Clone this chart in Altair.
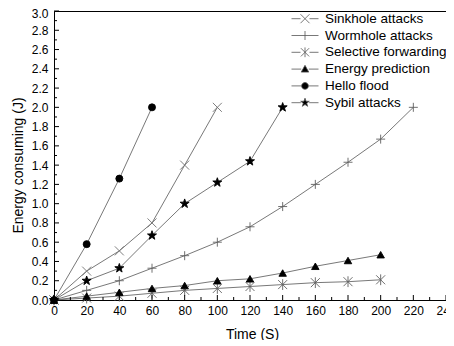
import math
import altair as alt
import pandas as pd

# ---------------- data ----------------
series_names = ["Sinkhole attacks", "Wormhole attacks", "Selective forwarding",
                "Energy prediction", "Hello flood", "Sybil attacks"]

sinkhole_t = [0, 20, 40, 60, 80, 100]
sinkhole_e = [0, 0.30, 0.51, 0.80, 1.40, 2.00]

wormhole_t = [0, 20, 40, 60, 80, 100, 120, 140, 160, 180, 200, 220]
wormhole_e = [0, 0.10, 0.20, 0.33, 0.46, 0.60, 0.76, 0.97, 1.20, 1.43, 1.67, 2.00]

selective_t = [0, 20, 40, 60, 80, 100, 120, 140, 160, 180, 200]
selective_e = [0, 0.02, 0.04, 0.07, 0.10, 0.12, 0.14, 0.16, 0.18, 0.19, 0.21]

prediction_t = [0, 20, 40, 60, 80, 100, 120, 140, 160, 180, 200]
prediction_e = [0, 0.04, 0.08, 0.12, 0.15, 0.20, 0.22, 0.28, 0.35, 0.41, 0.47]

hello_t = [0, 20, 40, 60]
hello_e = [0, 0.58, 1.26, 2.00]

sybil_t = [0, 20, 40, 60, 80, 100, 120, 140]
sybil_e = [0, 0.20, 0.33, 0.67, 1.00, 1.22, 1.44, 2.00]

x_major = [0, 20, 40, 60, 80, 100, 120, 140, 160, 180, 200, 220, 240]
x_minor = [10, 30, 50, 70, 90, 110, 130, 150, 170, 190, 210, 230]
y_major = [0.0, 0.2, 0.4, 0.6, 0.8, 1.0, 1.2, 1.4, 1.6, 1.8, 2.0, 2.2, 2.4, 2.6, 2.8, 3.0]
y_minor = [0.1, 0.3, 0.5, 0.7, 0.9, 1.1, 1.3, 1.5, 1.7, 1.9, 2.1, 2.3, 2.5, 2.7, 2.9]

all_t = [sinkhole_t, wormhole_t, selective_t, prediction_t, hello_t, sybil_t]
all_e = [sinkhole_e, wormhole_e, selective_e, prediction_e, hello_e, sybil_e]

rows = []
for name, ts, es in zip(series_names, all_t, all_e):
    for t, e in zip(ts, es):
        rows.append({"series": name, "time": t, "energy": e})
df = pd.DataFrame(rows)

# ---------------- marker shapes ----------------
def star_path(r_out, r_in):
    pts = []
    for k in range(10):
        ang = math.radians(-90 + 36 * k)
        r = r_out if k % 2 == 0 else r_in
        pts.append((r * math.cos(ang), r * math.sin(ang)))
    return "M" + "L".join(f"{x:.3f},{y:.3f}" for x, y in pts) + "Z"

def circle_path(r):
    pts = []
    for k in range(20):
        ang = 2 * math.pi * k / 20
        pts.append((r * math.cos(ang), r * math.sin(ang)))
    return "M" + "L".join(f"{x:.3f},{y:.3f}" for x, y in pts) + "Z"

X_PATH = "M-1,-1L1,1M-1,1L1,-1"
PLUS_PATH = "M-1,0L1,0M0,-1L0,1"
AST_PATH = "M-1,-1L1,1M-1,1L1,-1M0,-1.2L0,1.2"
STAR_PATH = star_path(1, 0.4)

marker_paths = [X_PATH, PLUS_PATH, AST_PATH, "triangle-up", "circle", STAR_PATH]
marker_fill = ["transparent", "transparent", "transparent", "black", "black", "black"]
marker_stroke = ["#707070", "#606060", "#606060", "black", "black", "black"]
marker_size = [81, 81, 81, 56, 49, 90]

seg = "M-1.8,0L-0.6,0M0.6,0L1.8,0"
legend_paths = [
    seg + "M-0.6,-0.6L0.6,0.6M-0.6,0.6L0.6,-0.6",
    "M-1.8,0L1.8,0M0,-0.6L0,0.6",
    seg + "M-0.55,-0.55L0.55,0.55M-0.55,0.55L0.55,-0.55M0,-0.65L0,0.65",
    "M-1.8,0L-0.5,0M0.5,0L1.8,0M0,-0.5L0.5,0.4L-0.5,0.4Z",
    "M-1.8,0L-0.45,0M0.45,0L1.8,0" + circle_path(0.45),
    "M-1.8,0L-0.55,0M0.55,0L1.8,0" + star_path(0.6, 0.24),
]
legend_fill = ["transparent", "transparent", "transparent", "black", "black", "black"]
legend_stroke = ["#555555"] * 6

# ---------------- chart ----------------
W, H = 392, 289
FONT = "Liberation Sans"
xs = alt.Scale(domain=[0, 240], nice=False, zero=False)
ys = alt.Scale(domain=[0, 3], nice=False, zero=False)

x_axis = alt.Axis(values=x_major, format="d", ticks=False, grid=False,
                  domainColor="black", domainWidth=1,
                  labelFont=FONT, labelFontSize=12, labelColor="black",
                  labelPadding=5, labelFlush=False, labelOverlap=False,
                  titleFont=FONT, titleFontSize=14, titleFontWeight="normal",
                  titleColor="black", titleX=198, titleY=34,
                  titleBaseline="middle", titleAlign="center")
y_axis = alt.Axis(values=y_major, format=".1f", ticks=False, grid=False,
                  domainColor="black", domainWidth=1,
                  labelFont=FONT, labelFontSize=12, labelColor="black",
                  labelPadding=6, labelFlush=False, labelOverlap=False,
                  labelOffset={"condition": {"test": "datum.value >= 2.99", "value": 2.5}, "value": 0},
                  titleFont=FONT, titleFontSize=14, titleFontWeight="normal",
                  titleColor="black", titleX=-36, titleY=154,
                  titleBaseline="middle", titleAlign="center")

X_ENC = alt.X("time:Q", scale=xs, axis=x_axis, title="Time (S)")
Y_ENC = alt.Y("energy:Q", scale=ys, axis=y_axis, title="Energy consuming (J)")

base = alt.Chart(df)

lines = base.mark_line(color="#555555", strokeWidth=0.8).encode(
    x=X_ENC, y=Y_ENC, detail="series:N", order="time:Q",
)

points = base.mark_point(strokeWidth=0.9, opacity=1, filled=True).encode(
    x=X_ENC, y=Y_ENC,
    shape=alt.Shape("series:N", scale=alt.Scale(domain=series_names, range=marker_paths), legend=None),
    fill=alt.Fill("series:N", scale=alt.Scale(domain=series_names, range=marker_fill), legend=None),
    stroke=alt.Stroke("series:N", scale=alt.Scale(domain=series_names, range=marker_stroke), legend=None),
    size=alt.Size("series:N", scale=alt.Scale(type="ordinal", domain=series_names, range=marker_size), legend=None),
)

x_major_df = pd.DataFrame({"time": x_major})
x_minor_df = pd.DataFrame({"time": x_minor})
y_major_df = pd.DataFrame({"energy": y_major})
y_minor_df = pd.DataFrame({"energy": y_minor})

xt1 = alt.Chart(x_major_df).mark_rule(color="black", strokeWidth=1).encode(
    x=X_ENC, y=alt.value(H), y2=alt.value(H - 5))
xt2 = alt.Chart(x_minor_df).mark_rule(color="black", strokeWidth=1).encode(
    x=X_ENC, y=alt.value(H), y2=alt.value(H - 3))
yt1 = alt.Chart(y_major_df).mark_rule(color="black", strokeWidth=1).encode(
    y=Y_ENC, x=alt.value(0), x2=alt.value(5))
yt2 = alt.Chart(y_minor_df).mark_rule(color="black", strokeWidth=1).encode(
    y=Y_ENC, x=alt.value(0), x2=alt.value(3))

leg = alt.Legend(title=None, orient="none", legendX=243, legendY=-0.3, padding=0,
                 labelFont=FONT, labelFontSize=13.5, labelColor="black",
                 labelOffset=12, rowPadding=1.8, symbolSize=225,
                 symbolStrokeWidth=0.8, symbolOpacity=1, labelLimit=300)

legend_layer = base.transform_filter("false").mark_point(
    filled=True, size=225, strokeWidth=0.8, opacity=1
).encode(
    x=X_ENC, y=Y_ENC,
    shape=alt.Shape("series:N", scale=alt.Scale(domain=series_names, range=legend_paths), legend=leg),
    fill=alt.Fill("series:N", scale=alt.Scale(domain=series_names, range=legend_fill), legend=leg),
    stroke=alt.Stroke("series:N", scale=alt.Scale(domain=series_names, range=legend_stroke), legend=leg),
)

chart = alt.layer(lines, points, xt1, xt2, yt1, yt2, legend_layer).resolve_scale(
    shape="independent", fill="independent", stroke="independent"
).properties(
    width=W, height=H,
    autosize=alt.AutoSizeParams(type="none"),
    padding={"left": 46, "top": 3, "right": 0, "bottom": 40},
    background="white",
).configure_view(stroke="black", strokeWidth=1)

chart.save("out.html", embed_options={"renderer": "svg", "actions": False})
